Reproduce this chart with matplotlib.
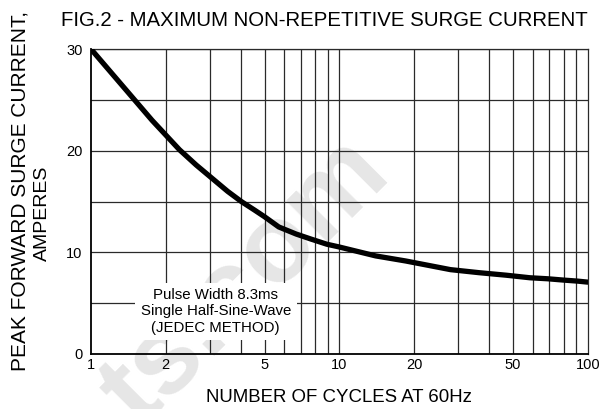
import matplotlib
matplotlib.use("Agg")
import matplotlib.pyplot as plt
from matplotlib.ticker import FixedLocator, NullFormatter, FixedFormatter

plt.rcParams['font.family'] = ['Liberation Sans', 'DejaVu Sans']

# curve
cycles = [1, 1.45, 1.76, 2.27, 2.65, 3.55, 4.03, 4.56, 5.0, 5.7, 6.7, 7.7, 8.9, 9.9,
          14, 18.5, 28, 36.5, 47, 58.5, 69, 80, 91, 100]
current = [30, 25.4, 23.0, 20.1, 18.6, 16.0, 15.0, 14.15, 13.5, 12.5, 11.8, 11.3, 10.8, 10.55,
           9.65, 9.15, 8.3, 8.0, 7.75, 7.5, 7.4, 7.27, 7.17, 7.07]

x_ticks = [1, 2, 5, 10, 20, 50, 100]
x_ticklabels = ['1', '2', '5', '10', '20', '50', '100']
x_grid = [2, 3, 4, 5, 6, 7, 8, 9, 10, 20, 30, 40, 50, 60, 70, 80, 90]
y_ticks = [0, 10, 20, 30]
y_grid = [5, 10, 15, 20, 25, 30]

fig = plt.figure(figsize=(6.01, 4.09), dpi=100)
ax = fig.add_axes([0.1514, 0.1345, 0.8266, 0.7455])
ax.set_facecolor('none')

ax.set_xscale('log')
ax.set_xlim(1, 100)
ax.set_ylim(0, 30)

# faint site watermark behind the grid
ax.text(0.41, 0.31, 'ts.com', transform=fig.transFigure, fontsize=80,
        fontweight='bold', color='#e6e6e6', rotation=45, ha='center',
        va='center', zorder=0.5, clip_on=False)

for gx in x_grid:
    ax.axvline(gx, color='#2a2a2a', lw=0.9, zorder=1)
for gy in y_grid:
    ax.axhline(gy, color='#2a2a2a', lw=0.9, zorder=1)

ax.plot(cycles, current, color='black', lw=3.8, solid_capstyle='round',
        solid_joinstyle='round', zorder=4)

ax.xaxis.set_major_locator(FixedLocator(x_ticks))
ax.xaxis.set_major_formatter(FixedFormatter(x_ticklabels))
ax.xaxis.set_minor_formatter(NullFormatter())
ax.set_yticks(y_ticks)
ax.tick_params(which='both', length=0, labelsize=10.5, colors='black')
ax.tick_params(axis='x', pad=3)
ax.tick_params(axis='y', pad=6)

for side in ['left', 'bottom']:
    ax.spines[side].set_linewidth(1.3)
for side in ['top', 'right']:
    ax.spines[side].set_linewidth(0.9)
    ax.spines[side].set_color('#2a2a2a')

ax.text(3.18, 4.2, 'Pulse Width 8.3ms\nSingle Half-Sine-Wave\n(JEDEC METHOD)',
        ha='center', va='center', fontsize=10.8, linespacing=1.2, zorder=3,
        bbox=dict(facecolor='white', edgecolor='none', pad=4))

ax.set_xlabel('NUMBER OF CYCLES AT 60Hz', fontsize=13.4, labelpad=12)
fig.text(0.539, 0.951, 'FIG.2 - MAXIMUM NON-REPETITIVE SURGE CURRENT',
         fontsize=14.7, ha='center', va='center')
fig.text(0.033, 0.533, 'PEAK FORWARD SURGE CURRENT,', fontsize=15,
         rotation=90, ha='center', va='center')
fig.text(0.07, 0.479, 'AMPERES', fontsize=14, rotation=90, ha='center', va='center')

fig.savefig('out.png', dpi=100)
